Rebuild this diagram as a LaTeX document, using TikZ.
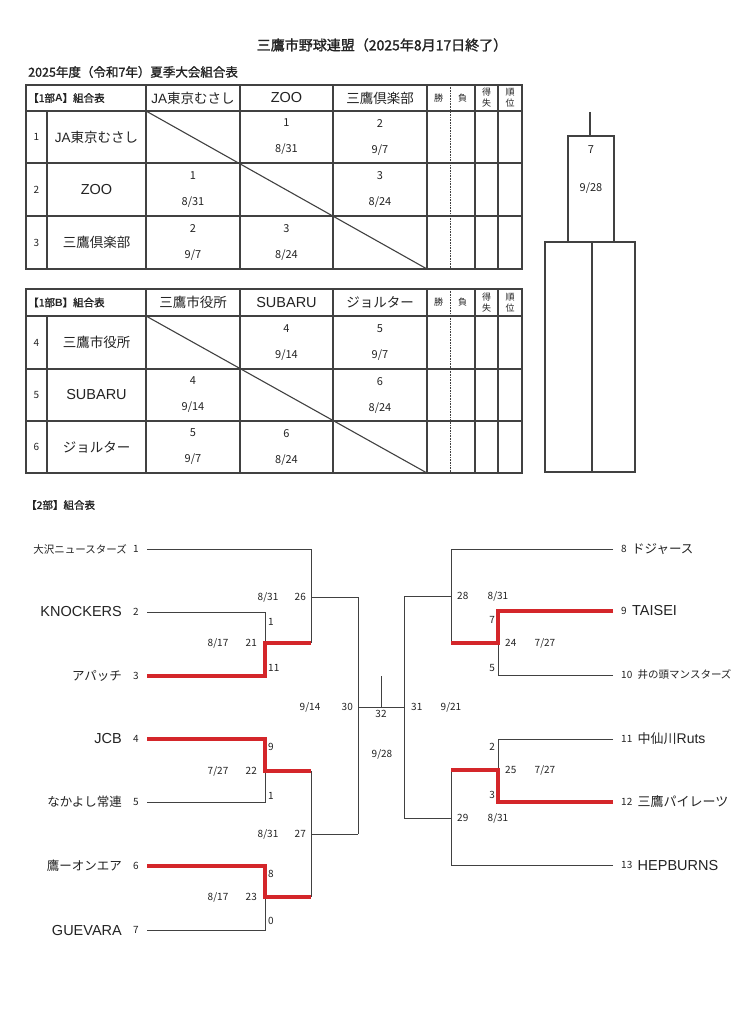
\documentclass[tikz,border=0pt]{standalone}
\usepackage{fontspec}
\setmainfont{Noto Sans CJK JP}
\newfontfamily\latf{Liberation Sans}
\newfontfamily\jpbold{Noto Sans CJK JP}[FakeBold=1.4]
\usepackage{tikz}
\usetikzlibrary{positioning}
\definecolor{inkgray}{RGB}{35,35,35}
\definecolor{rulegray}{RGB}{65,65,65}
\definecolor{winred}{RGB}{212,38,42}

\begin{document}
\begin{tikzpicture}[
  x=1pt, y=-1pt,
  every node/.style={text=inkgray, inner sep=1pt},
  tbl/.style={draw=rulegray, line width=1.1pt},
  link/.style={draw=rulegray, line width=1pt},
  win/.style={draw=winred, line width=3.4pt},
  heading/.style={font=\jpbold\fontsize{14}{14}\selectfont},
  subhead/.style={font=\jpbold\fontsize{12.5}{12.5}\selectfont},
  hdr/.style={font=\jpbold\fontsize{10.5}{10.5}\selectfont},
  colname/.style={font=\fontsize{13.5}{13.5}\selectfont},
  latname/.style={font=\latf\fontsize{14.5}{14.5}\selectfont},
  rownum/.style={font=\fontsize{10}{10}\selectfont},
  smallhdr/.style={font=\fontsize{9}{11}\selectfont, align=center},
  cell/.style={font=\fontsize{11}{26}\selectfont, align=center},
  team/.style={font=\fontsize{12.5}{12.5}\selectfont},
  latteam/.style={font=\latf\fontsize{14.5}{14.5}\selectfont},
  seed/.style={font=\fontsize{10}{10}\selectfont},
  game/.style={font=\fontsize{10}{10}\selectfont}
]
  \useasboundingbox (0,0) rectangle (749,1024);
  \fill[white] (0,0) rectangle (749,1024);

  \node[heading] (title) at (382,45) {三鷹市野球連盟（2025年8月17日終了）};
  \node[subhead, anchor=west] (sub) at (27,72) {2025年度（令和7年）夏季大会組合表};

  % 1部A
  \draw[tbl] (26,85) rectangle (522,269);
  \foreach \y in {111,163,216} \draw[tbl] (26,\y) -- (522,\y);
  \draw[tbl] (47,111) -- (47,269);
  \foreach \x in {146,240,333,427,475,498} \draw[tbl] (\x,85) -- (\x,269);
  \draw[tbl, line width=0.6pt, densely dotted] (450,85) -- (450,269);
  \draw[tbl] (146,111) -- (427,269);

  \node[hdr, anchor=west] (hdA) at (27,98) {【1部{\latf\bfseries A}】組合表};
  \node[colname] (hA1) at (193,98) {{\latf JA}東京むさし};
  \node[latname] (hA2) at (286.5,98) {ZOO};
  \node[colname] (hA3) at (380,98) {三鷹倶楽部};
  \node[smallhdr] (wA) at (438.5,98) {勝};
  \node[smallhdr] (lA) at (462.5,98) {負};
  \node[smallhdr] (dA) at (486.5,98) {得\\失};
  \node[smallhdr] (rkA) at (510,98) {順\\位};

  \node[rownum] (nA1) at (36.5,137) {1};
  \node[colname] (rA1) at (96.5,137) {{\latf JA}東京むさし};
  \node[rownum] (nA2) at (36.5,189.5) {2};
  \node[latname] (rA2) at (96.5,189.5) {ZOO};
  \node[rownum] (nA3) at (36.5,242.5) {3};
  \node[colname] (rA3) at (96.5,242.5) {三鷹倶楽部};

  \node[cell] (A12) at (286.5,137) {1\\8/31};
  \node[cell] (A13) at (380,137) {2\\9/7};
  \node[cell] (A21) at (193,189.5) {1\\8/31};
  \node[cell] (A23) at (380,189.5) {3\\8/24};
  \node[cell] (A31) at (193,242.5) {2\\9/7};
  \node[cell] (A32) at (286.5,242.5) {3\\8/24};

  % 1部B
  \draw[tbl] (26,289) rectangle (522,473);
  \foreach \y in {316,369,421} \draw[tbl] (26,\y) -- (522,\y);
  \draw[tbl] (47,316) -- (47,473);
  \foreach \x in {146,240,333,427,475,498} \draw[tbl] (\x,289) -- (\x,473);
  \draw[tbl, line width=0.6pt, densely dotted] (450,289) -- (450,473);
  \draw[tbl] (146,316) -- (427,473);

  \node[hdr, anchor=west] (hdB) at (27,302.5) {【1部{\latf\bfseries B}】組合表};
  \node[colname] (hB1) at (193,302.5) {三鷹市役所};
  \node[latname] (hB2) at (286.5,302.5) {SUBARU};
  \node[colname] (hB3) at (380,302.5) {ジョルター};
  \node[smallhdr] (wB) at (438.5,302.5) {勝};
  \node[smallhdr] (lB) at (462.5,302.5) {負};
  \node[smallhdr] (dB) at (486.5,302.5) {得\\失};
  \node[smallhdr] (rkB) at (510,302.5) {順\\位};

  \node[rownum] (nB4) at (36.5,342.5) {4};
  \node[colname] (rB4) at (96.5,342.5) {三鷹市役所};
  \node[rownum] (nB5) at (36.5,395) {5};
  \node[latname] (rB5) at (96.5,395) {SUBARU};
  \node[rownum] (nB6) at (36.5,447) {6};
  \node[colname] (rB6) at (96.5,447) {ジョルター};

  \node[cell] (B45) at (286.5,342.5) {4\\9/14};
  \node[cell] (B46) at (380,342.5) {5\\9/7};
  \node[cell] (B54) at (193,395) {4\\9/14};
  \node[cell] (B56) at (380,395) {6\\8/24};
  \node[cell] (B64) at (193,447) {5\\9/7};
  \node[cell] (B65) at (286.5,447) {6\\8/24};

  % 決定戦
  \draw[tbl] (590,112) -- (590,136);
  \draw[tbl] (568,136) rectangle (614,242);
  \draw[tbl] (545,242) rectangle (635,472);
  \draw[tbl] (592,242) -- (592,472);
  \node[cell] (f7) at (591,150) {7};
  \node[cell] (fdate) at (591,188) {9/28};

  % 2部
  \node[hdr, anchor=west] (hd2) at (25,505) {【2部】組合表};

  \node[seed] (s1) at (136,549) {1};
  \node[team, left=4pt of s1, font=\fontsize{10.5}{10.5}\selectfont] (t1) {大沢ニュースターズ};
  \node[seed] (s2) at (136,612) {2};
  \node[latteam, left=9pt of s2] (t2) {KNOCKERS};
  \node[seed] (s3) at (136,676) {3};
  \node[team, left=9pt of s3] (t3) {アパッチ};
  \node[seed] (s4) at (136,739) {4};
  \node[latteam, left=9pt of s4] (t4) {JCB};
  \node[seed] (s5) at (136,802) {5};
  \node[team, left=9pt of s5] (t5) {なかよし常連};
  \node[seed] (s6) at (136,866) {6};
  \node[team, left=9pt of s6] (t6) {鷹ーオンエア};
  \node[seed] (s7) at (136,930) {7};
  \node[latteam, left=9pt of s7] (t7) {GUEVARA};

  \node[seed, anchor=west] (s8) at (620,549) {8};
  \node[team, right=3pt of s8] (t8) {ドジャース};
  \node[seed, anchor=west] (s9) at (620,611) {9};
  \node[latteam, right=3pt of s9] (t9) {TAISEI};
  \node[seed, anchor=west] (s10) at (620,675) {10};
  \node[team, right=3pt of s10, font=\fontsize{10.5}{10.5}\selectfont] (t10) {井の頭マンスターズ};
  \node[seed, anchor=west] (s11) at (620,739) {11};
  \node[team, right=3pt of s11, font=\fontsize{13}{13}\selectfont] (t11) {中仙川{\latf\fontsize{14}{14}\selectfont Ruts}};
  \node[seed, anchor=west] (s12) at (620,802) {12};
  \node[team, right=3pt of s12, font=\fontsize{13}{13}\selectfont] (t12) {三鷹パイレーツ};
  \node[seed, anchor=west] (s13) at (620,865) {13};
  \node[latteam, right=3pt of s13] (t13) {HEPBURNS};

  \coordinate (a1) at (147,549);
  \coordinate (a2) at (147,612);
  \coordinate (a3) at (147,676);
  \coordinate (a4) at (147,739);
  \coordinate (a5) at (147,802);
  \coordinate (a6) at (147,866);
  \coordinate (a7) at (147,930);
  \coordinate (b8) at (613,549);
  \coordinate (b9) at (613,611);
  \coordinate (b10) at (613,675);
  \coordinate (b11) at (613,739);
  \coordinate (b12) at (613,802);
  \coordinate (b13) at (613,865);

  \coordinate (g21) at (265,643);
  \coordinate (g22) at (265,771);
  \coordinate (g23) at (265,897);
  \coordinate (g26) at (311,597);
  \coordinate (g27) at (311,834);
  \coordinate (g30) at (358,707);
  \coordinate (c32) at (381,676);
  \coordinate (g32) at (381,707);
  \coordinate (g31) at (404,707);
  \coordinate (g28) at (451,596);
  \coordinate (g29) at (451,818);
  \coordinate (g24) at (498,643);
  \coordinate (g25) at (498,770);

  \draw[link] (a1) -| (g21 -| g26);
  \draw[link] (a2) -| (g21);
  \draw[link] (a5) -| (g22);
  \draw[link] (a7) -| (g23);
  \draw[link] (g22 -| g27) -- (g23 -| g27);
  \draw[link] (g26) -- (g26 -| g30);
  \draw[link] (g27) -- (g27 -| g30);
  \draw[link] (g26 -| g30) -- (g27 -| g30);
  \draw[link] (g30) -- (g31);
  \draw[link] (c32) -- (g32);
  \draw[link] (g28) -- (g28 -| g31);
  \draw[link] (g29) -- (g29 -| g31);
  \draw[link] (g28 -| g31) -- (g29 -| g31);
  \draw[link] (b8) -| (g24 -| g28);
  \draw[link] (b10) -| (g24);
  \draw[link] (b11) -| (g25);
  \draw[link] (b13) -| (g25 -| g29);

  \draw[win] (a3) -| (g21) -- (g21 -| g26);
  \draw[win] (a4) -| (g22) -- (g22 -| g27);
  \draw[win] (a6) -| (g23) -- (g23 -| g27);
  \draw[win] (b9) -| (g24) -- (g24 -| g28);
  \draw[win] (b12) -| (g25) -- (g25 -| g29);

  \node[game, left=7pt of g21] (n21) {21};
  \node[game, left=15pt of n21] (d21) {8/17};
  \node[game, left=7pt of g22] (n22) {22};
  \node[game, left=15pt of n22] (d22) {7/27};
  \node[game, left=7pt of g23] (n23) {23};
  \node[game, left=15pt of n23] (d23) {8/17};
  \node[game, left=4pt of g26] (n26) {26};
  \node[game, left=14pt of n26] (d26) {8/31};
  \node[game, left=4pt of g27] (n27) {27};
  \node[game, left=14pt of n27] (d27) {8/31};
  \node[game, left=4pt of g30] (n30) {30};
  \node[game, left=19pt of n30] (d30) {9/14};
  \node[game, below=2pt of g32] (n32) {32};
  \node[game] (d32) at (382,754) {9/28};
  \node[game, right=6pt of g31] (n31) {31};
  \node[game, right=16pt of n31] (d31) {9/21};
  \node[game, right=5pt of g28] (n28) {28};
  \node[game, right=17pt of n28] (d28) {8/31};
  \node[game, right=5pt of g29] (n29) {29};
  \node[game, right=17pt of n29] (d29) {8/31};
  \node[game, right=6pt of g24] (n24) {24};
  \node[game, right=16pt of n24] (d24) {7/27};
  \node[game, right=6pt of g25] (n25) {25};
  \node[game, right=16pt of n25] (d25) {7/27};

  \node[game, anchor=west] (p21a) at (267,622) {1};
  \node[game, anchor=west] (p21b) at (267,668) {11};
  \node[game, anchor=west] (p22a) at (267,747) {9};
  \node[game, anchor=west] (p22b) at (267,796) {1};
  \node[game, anchor=west] (p23a) at (267,874) {8};
  \node[game, anchor=west] (p23b) at (267,921) {0};
  \node[game, anchor=east] (p24a) at (496,620) {7};
  \node[game, anchor=east] (p24b) at (496,668) {5};
  \node[game, anchor=east] (p25a) at (496,747) {2};
  \node[game, anchor=east] (p25b) at (496,795) {3};
\end{tikzpicture}
\end{document}
